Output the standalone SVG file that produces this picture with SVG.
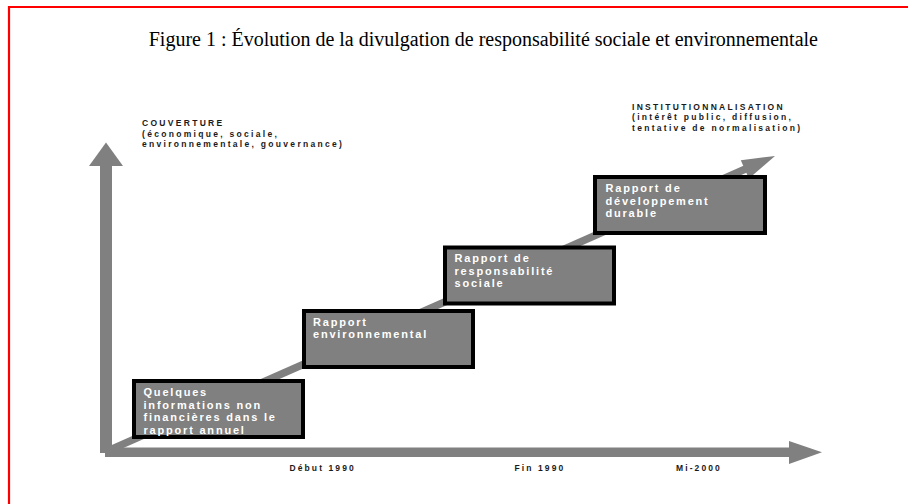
<svg xmlns="http://www.w3.org/2000/svg" width="908" height="504" viewBox="0 0 908 504">
  <style>
    .frame { fill: none; stroke: #ff0000; stroke-width: 2.2; }
    .title { font-family: "Liberation Serif", "Times New Roman", serif; font-size: 20px; fill: #000; }
    .axis { fill: #808080; }
    .trend { stroke: #808080; stroke-width: 7.5; fill: none; }
    .box { fill: #808080; stroke: #000; stroke-width: 4; }
    .boxtxt { font-family: "Liberation Sans", Arial, sans-serif; font-size: 11px; font-weight: bold; letter-spacing: 1.8px; fill: #ffffff; }
    .lbl { font-family: "Liberation Sans", Arial, sans-serif; font-size: 8.5px; font-weight: bold; letter-spacing: 2.3px; fill: #1a1a1a; }
    .tick { font-family: "Liberation Sans", Arial, sans-serif; font-size: 8.5px; font-weight: bold; letter-spacing: 2.1px; fill: #1a1a1a; }
  </style>

  <rect width="908" height="504" fill="#ffffff"/>
  <path class="frame" d="M9,504 V7 H908"/>

  <text class="title" x="818" y="46" text-anchor="end">Figure 1 : Évolution de la divulgation de responsabilité sociale et environnementale</text>

  <!-- axes and trend arrow -->
  <g id="connectors">
    <line class="trend" x1="106" y1="451.6" x2="750" y2="167"/>
    <polygon class="axis" points="775,156 740.8,160.2 748.9,178.5"/>
    <rect class="axis" x="100" y="164" width="12" height="289"/>
    <polygon class="axis" points="89,166 106,142.5 123,166"/>
    <rect class="axis" x="105" y="447.5" width="686" height="9.5"/>
    <polygon class="axis" points="789,441 822,452.3 789,464"/>
  </g>

  <!-- axis captions -->
  <g id="y-label">
    <text class="lbl" x="142" y="126">COUVERTURE</text>
    <text class="lbl" x="142" y="136.5">(économique, sociale,</text>
    <text class="lbl" x="142" y="147">environnementale, gouvernance)</text>
  </g>
  <g id="trend-label">
    <text class="lbl" x="632" y="109.5">INSTITUTIONNALISATION</text>
    <text class="lbl" x="632" y="120">(intérêt public, diffusion,</text>
    <text class="lbl" x="632" y="130.5">tentative de normalisation)</text>
  </g>
  <g id="x-labels">
    <text class="tick" x="289.5" y="471">Début 1990</text>
    <text class="tick" x="514.5" y="471">Fin 1990</text>
    <text class="tick" x="676" y="471">Mi-2000</text>
  </g>

  <!-- stages -->
  <g id="stage1">
    <rect class="box" x="134" y="381" width="169" height="56"/>
    <text class="boxtxt" x="143.5" y="396">Quelques</text>
    <text class="boxtxt" x="143.5" y="408.5">informations non</text>
    <text class="boxtxt" x="143.5" y="421">financières dans le</text>
    <text class="boxtxt" x="143.5" y="433.5">rapport annuel</text>
  </g>
  <g id="stage2">
    <rect class="box" x="304" y="311" width="169" height="56"/>
    <text class="boxtxt" x="313" y="326">Rapport</text>
    <text class="boxtxt" x="313" y="338">environnemental</text>
  </g>
  <g id="stage3">
    <rect class="box" x="445" y="247.5" width="169" height="56"/>
    <text class="boxtxt" x="454.5" y="262">Rapport de</text>
    <text class="boxtxt" x="454.5" y="274.5">responsabilité</text>
    <text class="boxtxt" x="454.5" y="287">sociale</text>
  </g>
  <g id="stage4">
    <rect class="box" x="595" y="177" width="170" height="56"/>
    <text class="boxtxt" x="605.5" y="192">Rapport de</text>
    <text class="boxtxt" x="605.5" y="204.5">développement</text>
    <text class="boxtxt" x="605.5" y="217">durable</text>
  </g>
</svg>
